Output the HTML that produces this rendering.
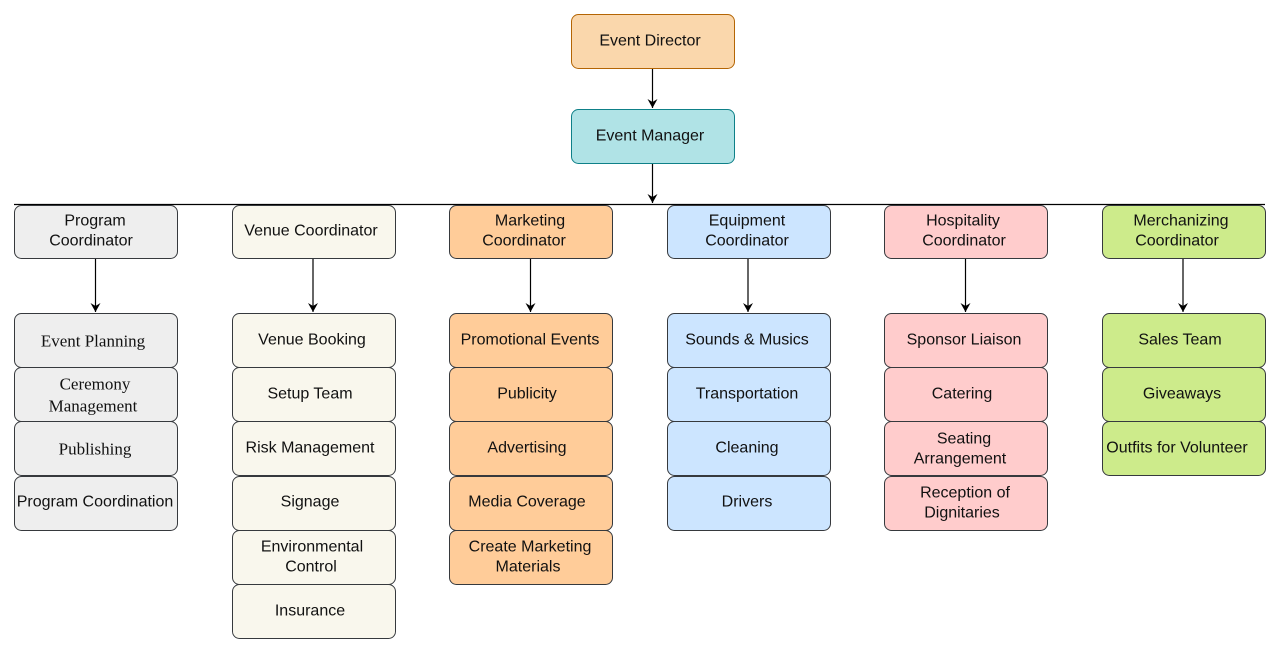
<!DOCTYPE html>
<html><head><meta charset="utf-8"><style>
html,body{margin:0;padding:0;background:#fff;}
svg text{font-family:"Liberation Sans",sans-serif;font-size:16px;fill:#111;text-anchor:middle;dominant-baseline:central;}
svg text.s{font-family:"Liberation Serif",serif;font-size:17px;}
</style></head><body>
<svg width="1280" height="653" viewBox="0 0 1280 653" xmlns="http://www.w3.org/2000/svg">
<defs><marker id="a" markerWidth="10" markerHeight="10" refX="9" refY="5" orient="auto" markerUnits="userSpaceOnUse"><path d="M0,0 L9,5 L0,10 L3,5 Z" fill="#000"/></marker></defs>
<g stroke="#000" stroke-width="1.2" fill="none">
<line x1="652.5" y1="68" x2="652.5" y2="108" marker-end="url(#a)"/>
<line x1="652.5" y1="163" x2="652.5" y2="203" marker-end="url(#a)"/>
<line x1="14" y1="204.5" x2="1265" y2="204.5"/>
<line x1="95.5" y1="258" x2="95.5" y2="312" marker-end="url(#a)"/>
<line x1="313" y1="258" x2="313" y2="312" marker-end="url(#a)"/>
<line x1="530.5" y1="258" x2="530.5" y2="312" marker-end="url(#a)"/>
<line x1="748" y1="258" x2="748" y2="312" marker-end="url(#a)"/>
<line x1="965.5" y1="258" x2="965.5" y2="312" marker-end="url(#a)"/>
<line x1="1183" y1="258" x2="1183" y2="312" marker-end="url(#a)"/>
</g>
<rect x="571.5" y="14.5" width="163" height="54" rx="7" fill="#fad7ac" stroke="#b46504"/>
<text x="650" y="41">Event Director</text>
<rect x="571.5" y="109.5" width="163" height="54" rx="7" fill="#b0e3e6" stroke="#0e8088"/>
<text x="650" y="136">Event Manager</text>
<g stroke="#36393d" stroke-width="1">
<rect x="14.5" y="205.5" width="163" height="53" rx="7" fill="#eeeeee"/>
<rect x="232.5" y="205.5" width="163" height="53" rx="7" fill="#f9f7ed"/>
<rect x="449.5" y="205.5" width="163" height="53" rx="7" fill="#ffcc99"/>
<rect x="667.5" y="205.5" width="163" height="53" rx="7" fill="#cce5ff"/>
<rect x="884.5" y="205.5" width="163" height="53" rx="7" fill="#ffcccc"/>
<rect x="1102.5" y="205.5" width="163" height="53" rx="7" fill="#cdeb8b"/>

<rect x="14.5" y="313.5" width="163" height="54" rx="7" fill="#eeeeee"/>
<rect x="14.5" y="367.5" width="163" height="54" rx="7" fill="#eeeeee"/>
<rect x="14.5" y="421.5" width="163" height="54" rx="7" fill="#eeeeee"/>
<rect x="14.5" y="476.5" width="163" height="54" rx="7" fill="#eeeeee"/>

<rect x="232.5" y="313.5" width="163" height="54" rx="7" fill="#f9f7ed"/>
<rect x="232.5" y="367.5" width="163" height="54" rx="7" fill="#f9f7ed"/>
<rect x="232.5" y="421.5" width="163" height="54" rx="7" fill="#f9f7ed"/>
<rect x="232.5" y="476.5" width="163" height="54" rx="7" fill="#f9f7ed"/>
<rect x="232.5" y="530.5" width="163" height="54" rx="7" fill="#f9f7ed"/>
<rect x="232.5" y="584.5" width="163" height="54" rx="7" fill="#f9f7ed"/>

<rect x="449.5" y="313.5" width="163" height="54" rx="7" fill="#ffcc99"/>
<rect x="449.5" y="367.5" width="163" height="54" rx="7" fill="#ffcc99"/>
<rect x="449.5" y="421.5" width="163" height="54" rx="7" fill="#ffcc99"/>
<rect x="449.5" y="476.5" width="163" height="54" rx="7" fill="#ffcc99"/>
<rect x="449.5" y="530.5" width="163" height="54" rx="7" fill="#ffcc99"/>

<rect x="667.5" y="313.5" width="163" height="54" rx="7" fill="#cce5ff"/>
<rect x="667.5" y="367.5" width="163" height="54" rx="7" fill="#cce5ff"/>
<rect x="667.5" y="421.5" width="163" height="54" rx="7" fill="#cce5ff"/>
<rect x="667.5" y="476.5" width="163" height="54" rx="7" fill="#cce5ff"/>

<rect x="884.5" y="313.5" width="163" height="54" rx="7" fill="#ffcccc"/>
<rect x="884.5" y="367.5" width="163" height="54" rx="7" fill="#ffcccc"/>
<rect x="884.5" y="421.5" width="163" height="54" rx="7" fill="#ffcccc"/>
<rect x="884.5" y="476.5" width="163" height="54" rx="7" fill="#ffcccc"/>

<rect x="1102.5" y="313.5" width="163" height="54" rx="7" fill="#cdeb8b"/>
<rect x="1102.5" y="367.5" width="163" height="54" rx="7" fill="#cdeb8b"/>
<rect x="1102.5" y="421.5" width="163" height="54" rx="7" fill="#cdeb8b"/>
</g>

<text x="95" y="221">Program</text><text x="91" y="241">Coordinator</text>
<text x="311" y="231">Venue Coordinator</text>
<text x="530" y="221">Marketing</text><text x="524" y="241">Coordinator</text>
<text x="747" y="221">Equipment</text><text x="747" y="241">Coordinator</text>
<text x="963" y="221">Hospitality</text><text x="964" y="241">Coordinator</text>
<text x="1181" y="221">Merchanizing</text><text x="1177" y="241">Coordinator</text>

<text class="s" x="93" y="341">Event Planning</text>
<text class="s" x="95" y="384">Ceremony</text><text class="s" x="93" y="406">Management</text>
<text class="s" x="95" y="449">Publishing</text>
<text x="95" y="502">Program Coordination</text>

<text x="312" y="340">Venue Booking</text>
<text x="310" y="394">Setup Team</text>
<text x="310" y="448">Risk Management</text>
<text x="310" y="502">Signage</text>
<text x="312" y="547">Environmental</text><text x="311" y="567">Control</text>
<text x="310" y="611">Insurance</text>

<text x="530" y="340">Promotional Events</text>
<text x="527" y="394">Publicity</text>
<text x="527" y="448">Advertising</text>
<text x="527" y="502">Media Coverage</text>
<text x="530" y="547">Create Marketing</text><text x="528" y="567">Materials</text>

<text x="747" y="340">Sounds &amp; Musics</text>
<text x="747" y="394">Transportation</text>
<text x="747" y="448">Cleaning</text>
<text x="747" y="502">Drivers</text>

<text x="964" y="340">Sponsor Liaison</text>
<text x="962" y="394">Catering</text>
<text x="964" y="439">Seating</text><text x="960" y="459">Arrangement</text>
<text x="965" y="493">Reception of</text><text x="962" y="513">Dignitaries</text>

<text x="1180" y="340">Sales Team</text>
<text x="1182" y="394">Giveaways</text>
<text x="1177" y="448">Outfits for Volunteer</text>
</svg>
</body></html>
